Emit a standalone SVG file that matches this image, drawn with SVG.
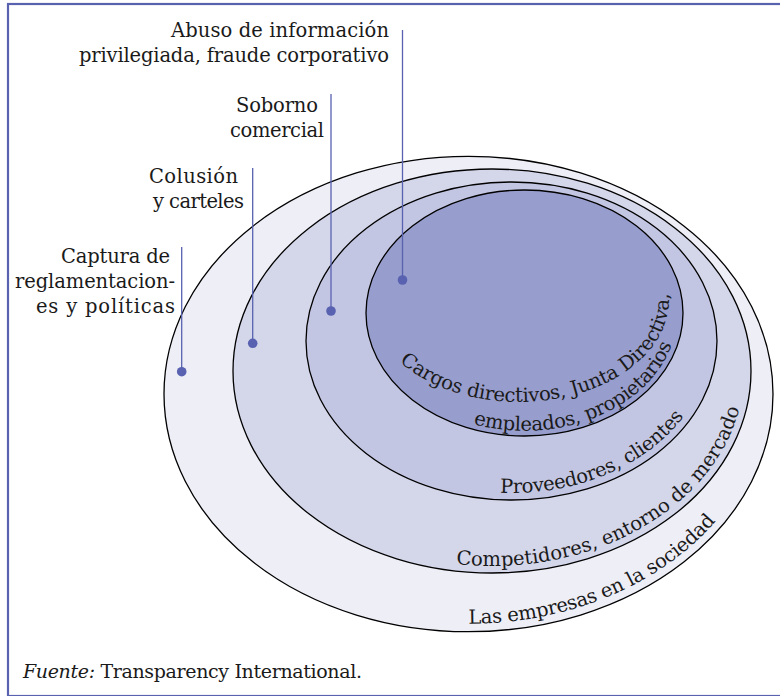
<svg xmlns="http://www.w3.org/2000/svg" width="780" height="696" viewBox="0 0 780 696">
<style>
text{font-family:"DejaVu Serif","Liberation Serif",serif;font-size:19.5px;fill:#1a1a1a}
text.src{font-size:19px}
.ring{stroke:#000;stroke-width:1.3}
.lead{stroke:#5862b0;stroke-width:1.3;fill:none}
.dot{fill:#5862b0}
</style>
<defs>
<path id="pA" d="M468.5,623.7 A296.5,229.7 0 0 0 765,394"/>
<path id="pB" d="M456.1,564 A252,195 0 0 0 743,354"/>
<path id="pC" d="M500.1,492.7 A198.5,152 0 0 0 709.2,327.8"/>
<path id="pD1" d="M399.7,361.8 A150,102 0 0 0 666.7,282.3"/>
<path id="pD2" d="M473.5,424 A153,118 0 0 0 677,302.7"/>
</defs>
<rect x="8" y="4" width="780" height="692" fill="#fff" stroke="#5862ae" stroke-width="2.2"/>
<g id="society">
<ellipse class="ring" cx="468.5" cy="394" rx="304.5" ry="237.7" fill="#eeeef7"/>
<text letter-spacing="-0.3"><textPath href="#pA">Las empresas en la sociedad</textPath></text>
</g>
<g id="market">
<ellipse class="ring" cx="492" cy="371" rx="259" ry="202" fill="#d4d6ea"/>
<text><textPath href="#pB">Competidores, entorno de mercado</textPath></text>
</g>
<g id="suppliers">
<ellipse class="ring" cx="511.5" cy="341" rx="205.5" ry="159" fill="#c3c6e2"/>
<text letter-spacing="-0.3"><textPath href="#pC">Proveedores, clientes</textPath></text>
</g>
<g id="insiders">
<ellipse class="ring" cx="524.5" cy="313" rx="158.5" ry="123" fill="#979dcc"/>
<text letter-spacing="-0.2"><textPath href="#pD1">Cargos directivos, Junta Directiva,</textPath></text>
<text letter-spacing="-0.3"><textPath href="#pD2">empleados, propietarios</textPath></text>
</g>
<g id="connectors">
<line class="lead" x1="402.5" y1="30" x2="402.5" y2="280"/>
<circle class="dot" cx="402.5" cy="280" r="4.8"/>
<line class="lead" x1="331" y1="94" x2="331" y2="311"/>
<circle class="dot" cx="331" cy="311" r="4.8"/>
<line class="lead" x1="252.7" y1="168" x2="252.7" y2="343.3"/>
<circle class="dot" cx="252.7" cy="343.3" r="4.8"/>
<line class="lead" x1="181.7" y1="247" x2="181.7" y2="371.7"/>
<circle class="dot" cx="181.7" cy="371.7" r="4.8"/>
</g>
<g id="label-abuso">
<text x="171" y="37" textLength="218" lengthAdjust="spacing">Abuso de información</text>
<text x="79" y="62" textLength="310" lengthAdjust="spacing">privilegiada, fraude corporativo</text>
</g>
<g id="label-soborno">
<text x="236" y="112" textLength="82" lengthAdjust="spacing">Soborno</text>
<text x="230" y="137" textLength="94" lengthAdjust="spacing">comercial</text>
</g>
<g id="label-colusion">
<text x="149" y="183" textLength="89" lengthAdjust="spacing">Colusión</text>
<text x="153" y="208" textLength="91" lengthAdjust="spacing">y carteles</text>
</g>
<g id="label-captura">
<text x="61" y="263" textLength="109" lengthAdjust="spacing">Captura de</text>
<text x="15" y="288" textLength="160" lengthAdjust="spacing">reglamentacion-</text>
<text x="36" y="313" textLength="139" lengthAdjust="spacing">es y políticas</text>
</g>
<g id="source">
<text class="src" x="23" y="678" textLength="339" lengthAdjust="spacing"><tspan font-style="italic">Fuente:</tspan> Transparency International.</text>
</g>
</svg>
